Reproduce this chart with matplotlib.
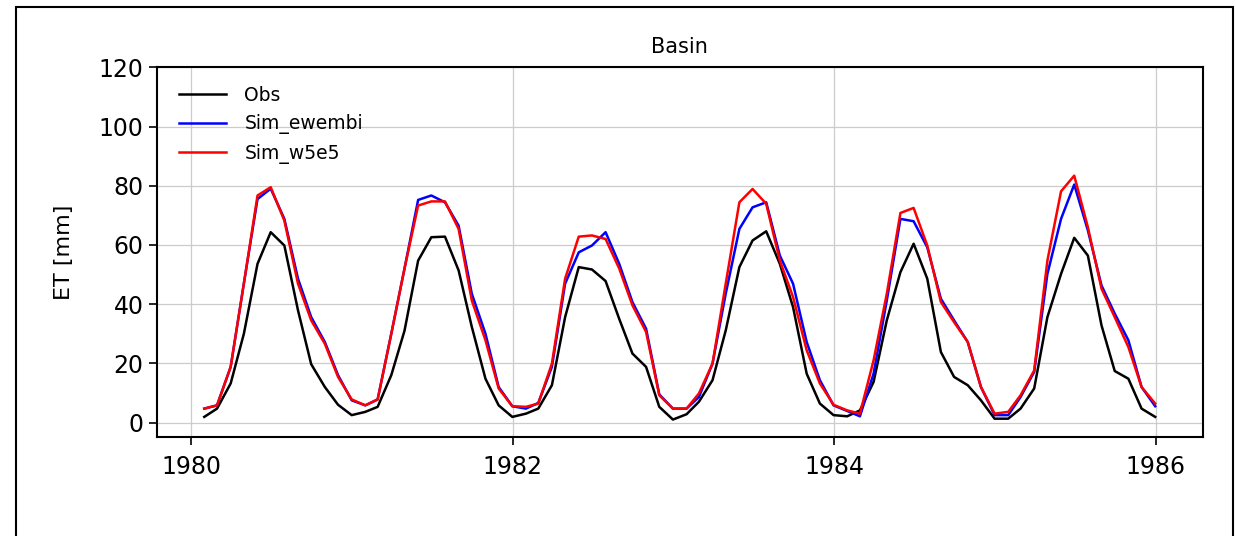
import matplotlib
matplotlib.use("Agg")
import matplotlib.pyplot as plt
import matplotlib.dates as mdates
from matplotlib.patches import Rectangle
import pandas as pd

# monthly ET [mm], Jan 1980 - Dec 1985
dates = pd.date_range("1980-01-31", "1985-12-31", freq="ME")

obs = [1.9, 4.7, 13.2, 30.0, 53.6, 64.3, 59.8, 37.9, 19.7, 12.0, 6.0, 2.5,
       3.6, 5.3, 16.0, 31.0, 54.7, 62.6, 62.8, 51.4, 32.3, 14.8, 5.8, 1.9,
       3.0, 4.7, 12.6, 35.6, 52.5, 51.7, 47.8, 35.0, 23.3, 18.8, 5.3, 1.0,
       2.8, 7.0, 14.3, 31.1, 52.5, 61.5, 64.6, 53.6, 39.0, 16.5, 6.4, 2.5,
       2.1, 4.1, 13.7, 34.5, 50.8, 60.4, 48.6, 23.8, 15.4, 12.6, 7.5, 1.3,
       1.3, 4.7, 11.5, 35.6, 50.2, 62.4, 56.4, 32.8, 17.4, 14.8, 4.7, 1.9]

sim_ewembi = [4.7, 5.8, 18.8, 47.0, 75.5, 79.0, 68.8, 48.6, 35.6, 27.2, 16.0, 7.5,
              5.8, 7.8, 30.0, 52.0, 75.2, 76.7, 74.4, 66.5, 43.5, 30.0, 12.0, 5.5,
              4.7, 6.6, 18.8, 46.9, 57.5, 59.8, 64.3, 53.6, 40.7, 31.7, 9.5, 4.7,
              4.7, 8.6, 19.9, 43.5, 65.4, 72.7, 74.4, 56.4, 46.9, 27.2, 14.3, 5.8,
              3.9, 2.1, 16.5, 41.2, 68.8, 68.0, 59.2, 41.8, 34.5, 27.2, 12.0, 2.5,
              2.5, 8.6, 17.1, 50.2, 68.8, 80.4, 64.9, 46.3, 36.8, 27.8, 12.0, 5.5]

sim_w5e5 = [4.7, 5.8, 18.8, 47.0, 76.7, 79.5, 68.2, 46.9, 34.5, 26.6, 15.4, 7.8,
            5.8, 7.8, 30.0, 52.0, 73.3, 74.7, 74.7, 65.4, 41.2, 27.8, 11.5, 5.5,
            5.3, 6.4, 19.9, 48.6, 62.8, 63.2, 62.0, 52.0, 39.6, 30.6, 9.2, 4.7,
            4.7, 9.8, 19.9, 46.9, 74.4, 78.9, 73.9, 54.7, 42.4, 24.4, 13.2, 6.0,
            4.1, 3.0, 21.0, 43.5, 70.8, 72.5, 59.8, 40.7, 33.9, 27.2, 12.0, 3.0,
            3.6, 9.2, 17.6, 54.7, 78.1, 83.4, 66.0, 45.2, 35.6, 25.5, 12.0, 6.4]

fig = plt.figure(figsize=(12.36, 5.36), dpi=100)
# frame drawn round the figure
fig.patches.append(Rectangle((16 / 1236, -0.1), 1217 / 1236, 1.1 - 7 / 536,
                             transform=fig.transFigure, fill=False,
                             edgecolor="black", linewidth=1.5))

ax = fig.add_axes([0.1268, 0.1841, 0.8463, 0.6903])
ax.plot(dates, obs, color="black", lw=1.8, label="Obs")
ax.plot(dates, sim_ewembi, color="blue", lw=1.8, label="Sim_ewembi")
ax.plot(dates, sim_w5e5, color="red", lw=1.8, label="Sim_w5e5")

ax.set_ylim(-5, 120)
ax.set_yticks(range(0, 121, 20))
ax.xaxis.set_major_locator(mdates.YearLocator(2))
ax.xaxis.set_major_formatter(mdates.DateFormatter("%Y"))
ax.tick_params(labelsize=17, width=1.2, length=6)
ax.tick_params(axis="x", pad=7)
for s in ax.spines.values():
    s.set_linewidth(1.5)
ax.grid(True, color="#cccccc", lw=0.9)

ax.set_title("Basin", fontsize=15, pad=10)
ax.set_ylabel("ET [mm]", fontsize=16)
ax.yaxis.set_label_coords(-0.079, 0.5)
ax.legend(loc="upper left", frameon=False, fontsize=13.5,
          handlelength=2.5, handletextpad=1.0, bbox_to_anchor=(0.005, 0.995))

fig.savefig("out.png", dpi=100)
